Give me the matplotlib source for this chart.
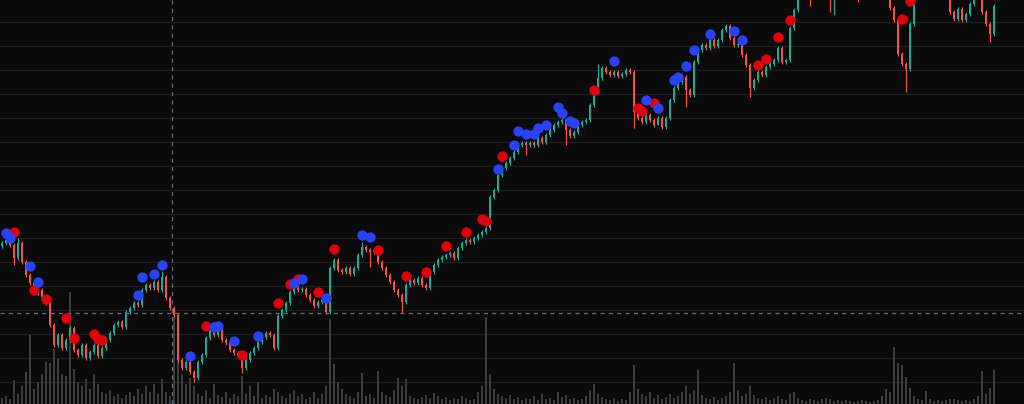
import numpy as np
import matplotlib
matplotlib.use("Agg")
import matplotlib.pyplot as plt

# closing prices, one per session (oldest first)
closes = [
    161, 164, 159, 146, 161, 142, 129, 121, 111, 114,
    107, 101, 79, 59, 69, 56, 64, 76, 54, 49,
    59, 46, 52, 59, 48, 56, 64, 71, 79, 82,
    77, 92, 96, 101, 99, 114, 119, 116, 122, 114,
    127, 106, 96, 89, 44, 36, 42, 32, 26, 42,
    49, 66, 74, 69, 74, 64, 61, 54, 51, 48,
    36, 44, 51, 56, 62, 67, 71, 69, 56, 88,
    94, 101, 112, 116, 114, 115, 109, 104, 98, 102,
    104, 92, 136, 144, 134, 132, 136, 130, 136, 149,
    157, 154, 152, 154, 142, 136, 129, 122, 114, 109,
    102, 119, 124, 121, 126, 119, 116, 132, 139, 144,
    147, 149, 151, 146, 156, 161, 164, 162, 166, 169,
    172, 176, 207, 214, 229, 236, 241, 246, 252, 259,
    261, 259, 261, 259, 266, 262, 269, 274, 279, 282,
    284, 274, 268, 272, 279, 282, 284, 299, 312, 326,
    336, 332, 329, 332, 328, 330, 334, 332, 292, 286,
    282, 289, 284, 279, 286, 277, 286, 304, 316, 322,
    327, 314, 309, 342, 354, 359, 356, 364, 358, 364,
    374, 378, 366, 359, 360, 349, 339, 316, 324, 332,
    329, 337, 340, 344, 356, 342, 344, 376, 394, 414,
    420, 418, 412, 422, 425, 420, 414, 408, 410, 412,
    420, 425, 428, 422, 410, 418, 425, 430, 428, 424,
    420, 412, 396, 384, 350, 340, 335, 380, 410, 420,
    425, 428, 422, 418, 415, 412, 408, 392, 385, 395,
    384, 390, 400, 415, 410, 392, 380, 370, 398,
]
first_open = 158

# long shadows that stick out of the bodies
low_wicks = {3: 139, 48: 22, 60: 31, 92: 137, 100: 91, 131: 249, 141: 259,
             158: 276, 164: 279, 171: 297, 187: 307, 202: 398, 207: 392,
             208: 389, 214: 402, 226: 312, 247: 362}
high_wicks = {4: 166, 40: 133, 90: 162, 149: 340, 181: 380}

volume = [
    6, 8, 5, 24, 10, 18, 32, 69, 15, 22,
    30, 42, 41, 55, 45, 30, 28, 112, 35, 22,
    18, 25, 15, 30, 20, 12, 10, 14, 8, 10,
    6, 9, 12, 8, 15, 10, 18, 12, 20, 10,
    25, 12, 8, 87, 45, 30, 20, 26, 18, 10,
    8, 14, 6, 20, 9, 7, 12, 6, 10, 8,
    28, 10, 18, 8, 22, 6, 9, 7, 15, 12,
    8, 6, 10, 14, 8, 10, 5, 7, 12, 6,
    10, 18, 85, 40, 22, 15, 10, 8, 6, 12,
    31, 8, 10, 6, 33, 12, 9, 7, 14, 26,
    18, 25, 8, 6, 5, 7, 9, 6, 11, 8,
    5, 7, 4, 6, 5, 8, 6, 4, 5, 12,
    18, 87, 30, 15, 10, 8, 6, 9, 5, 7,
    4, 6, 5, 8, 4, 10, 5, 6, 4, 12,
    7, 9, 5, 6, 4, 5, 8, 14, 20, 10,
    7, 5, 4, 6, 3, 5, 4, 12, 39, 15,
    10, 8, 12, 6, 9, 5, 7, 10, 6, 8,
    12, 18, 10, 14, 34, 9, 6, 5, 7, 4,
    6, 8, 12, 41, 14, 8, 10, 18, 9, 6,
    5, 7, 4, 6, 8, 5, 4, 10, 12, 6,
    4, 3, 5, 4, 3, 5, 6, 5, 3, 4,
    3, 4, 3, 2, 3, 4, 3, 2, 3, 4,
    8, 15, 12, 57, 41, 39, 27, 16, 8, 5,
    4, 13, 5, 3, 4, 3, 4, 5, 5, 4,
    3, 4, 3, 5, 8, 33, 10, 16, 34,
]

# signal dots: (session index, price)
sell_signals = [(3, 172), (8, 114), (11, 105), (16, 86), (18, 66), (23, 70), (24, 65),
                (25, 64), (51, 78), (60, 49), (69, 101), (72, 120), (74, 125), (79, 112),
                (83, 155), (94, 154), (101, 128), (106, 132), (111, 158), (116, 172),
                (120, 185), (121, 183), (125, 248), (148, 314), (159, 296), (160, 293),
                (163, 301), (189, 339), (191, 345), (194, 367), (197, 384), (225, 385),
                (227, 403)]
buy_signals = [(1, 171), (2, 166), (7, 138), (9, 122), (34, 109), (35, 127), (38, 130),
               (40, 139), (47, 48), (53, 77), (54, 78), (58, 63), (64, 68), (73, 121),
               (75, 125), (81, 106), (90, 169), (92, 167), (124, 235), (128, 259),
               (129, 273), (131, 270), (133, 270), (134, 276), (136, 279), (139, 297),
               (140, 291), (142, 283), (143, 281), (153, 343), (161, 304), (164, 296),
               (168, 324), (169, 327), (171, 338), (173, 354), (177, 370), (183, 373),
               (185, 364)]

cursor_index = 42.5
cursor_price = 91

bg = '#0a0a0a'
up_col = '#1fa896'
dn_col = '#f0524f'

closes = np.array(closes, dtype=float)
opens = np.concatenate([[first_open], closes[:-1]])
n = len(closes)
idx = np.arange(n)
highs = np.maximum(opens, closes) + 2
lows = np.minimum(opens, closes) - 2
for k, v in low_wicks.items():
    lows[k] = v
for k, v in high_wicks.items():
    highs[k] = v

fig = plt.figure(figsize=(10.24, 4.04), dpi=100, facecolor=bg)
ax_vol = fig.add_axes([0, 0, 1, 1])
ax = fig.add_axes([0, 0, 1, 1])
ax_vol.set_facecolor(bg)
ax.patch.set_visible(False)

ax_vol.bar(idx, volume, width=0.6, color='#3c3c3c', linewidth=0)
ax_vol.set_ylim(0, 404)

for y in np.arange(22, 404, 24):
    ax_vol.axhline(y, color='#1c1c1c', lw=1, zorder=0)

up = closes >= opens
cols = np.where(up, up_col, dn_col)
ax.vlines(idx, lows, highs, colors=cols, lw=0.9, zorder=2)
body = np.maximum(np.abs(closes - opens), 1.2)
ax.bar(idx, body, bottom=np.minimum(opens, closes), width=0.65, color=cols,
       linewidth=0, zorder=3)

sx, sy = zip(*sell_signals)
bx, by = zip(*buy_signals)
ax.scatter(sx, sy, s=55, color='#e3000d', linewidths=0, zorder=5)
ax.scatter(bx, by, s=55, color='#2a42f5', linewidths=0, zorder=5)

ax.axvline(cursor_index, color='#5b6a78', lw=1, dashes=(3, 3), zorder=4)
ax.axhline(cursor_price, color='#5b6a78', lw=1, dashes=(3, 3), zorder=4)

for a in (ax, ax_vol):
    a.set_xlim(-0.5, 255.5)
    a.set_xticks([])
    a.set_yticks([])
    for s in a.spines.values():
        s.set_visible(False)
ax.set_ylim(0, 404)

fig.savefig('out.png', dpi=100, facecolor=bg)
